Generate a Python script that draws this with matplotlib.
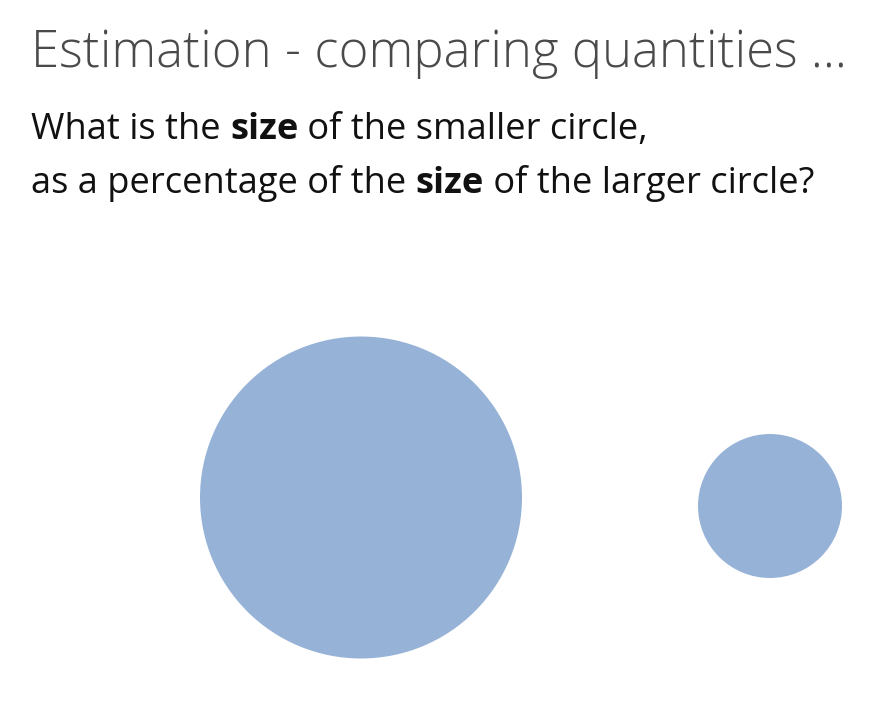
import matplotlib
matplotlib.use("Agg")
import matplotlib.pyplot as plt
from matplotlib.patches import Circle
import numpy as np

# ---- data ----
title = "Estimation - comparing quantities ..."
question_lines = [
    [("What is the ", "normal"), ("size", "bold"), (" of the smaller circle,", "normal")],
    [("as a percentage of the ", "normal"), ("size", "bold"), (" of the larger circle?", "normal")],
]
circle_labels = ["larger", "smaller"]
circle_sizes = [100, 20]          # relative areas (smaller = 20% of larger)

# ---- layout / style ----
W, H = 880, 720
circle_centers = [(361, 497.5), (770, 506)]
max_radius = 161
circle_color = "#96b3d7"
FONT = "Open Sans"

fig = plt.figure(figsize=(W / 100, H / 100), dpi=100)
ax = fig.add_axes([0, 0, 1, 1])
ax.set_xlim(0, W)
ax.set_ylim(H, 0)
ax.axis("off")

for (cx, cy), size in zip(circle_centers, circle_sizes):
    r = max_radius * np.sqrt(size / max(circle_sizes))
    ax.add_patch(Circle((cx, cy), r, facecolor=circle_color, edgecolor="none"))

ax.text(31, 66.7, title, fontsize=36.6, family=FONT, fontweight="light",
        color="#4a4a4a", va="baseline", ha="left")

renderer = fig.canvas.get_renderer()


def seg_width(s, weight, fs):
    t1 = ax.text(0, 0, "a" + s + "a", fontsize=fs, family=FONT, fontweight=weight)
    t2 = ax.text(0, 0, "aa", fontsize=fs, family=FONT, fontweight=weight)
    w = t1.get_window_extent(renderer).width - t2.get_window_extent(renderer).width
    t1.remove()
    t2.remove()
    return w


sub_fs = 26.1
baselines = [139.3, 193]
for line, yb in zip(question_lines, baselines):
    x = 31
    for s, weight in line:
        ax.text(x, yb, s, fontsize=sub_fs, family=FONT, fontweight=weight,
                color="#111111", va="baseline", ha="left")
        x += seg_width(s, weight, sub_fs)

fig.savefig("out.png", dpi=100, facecolor="white")
